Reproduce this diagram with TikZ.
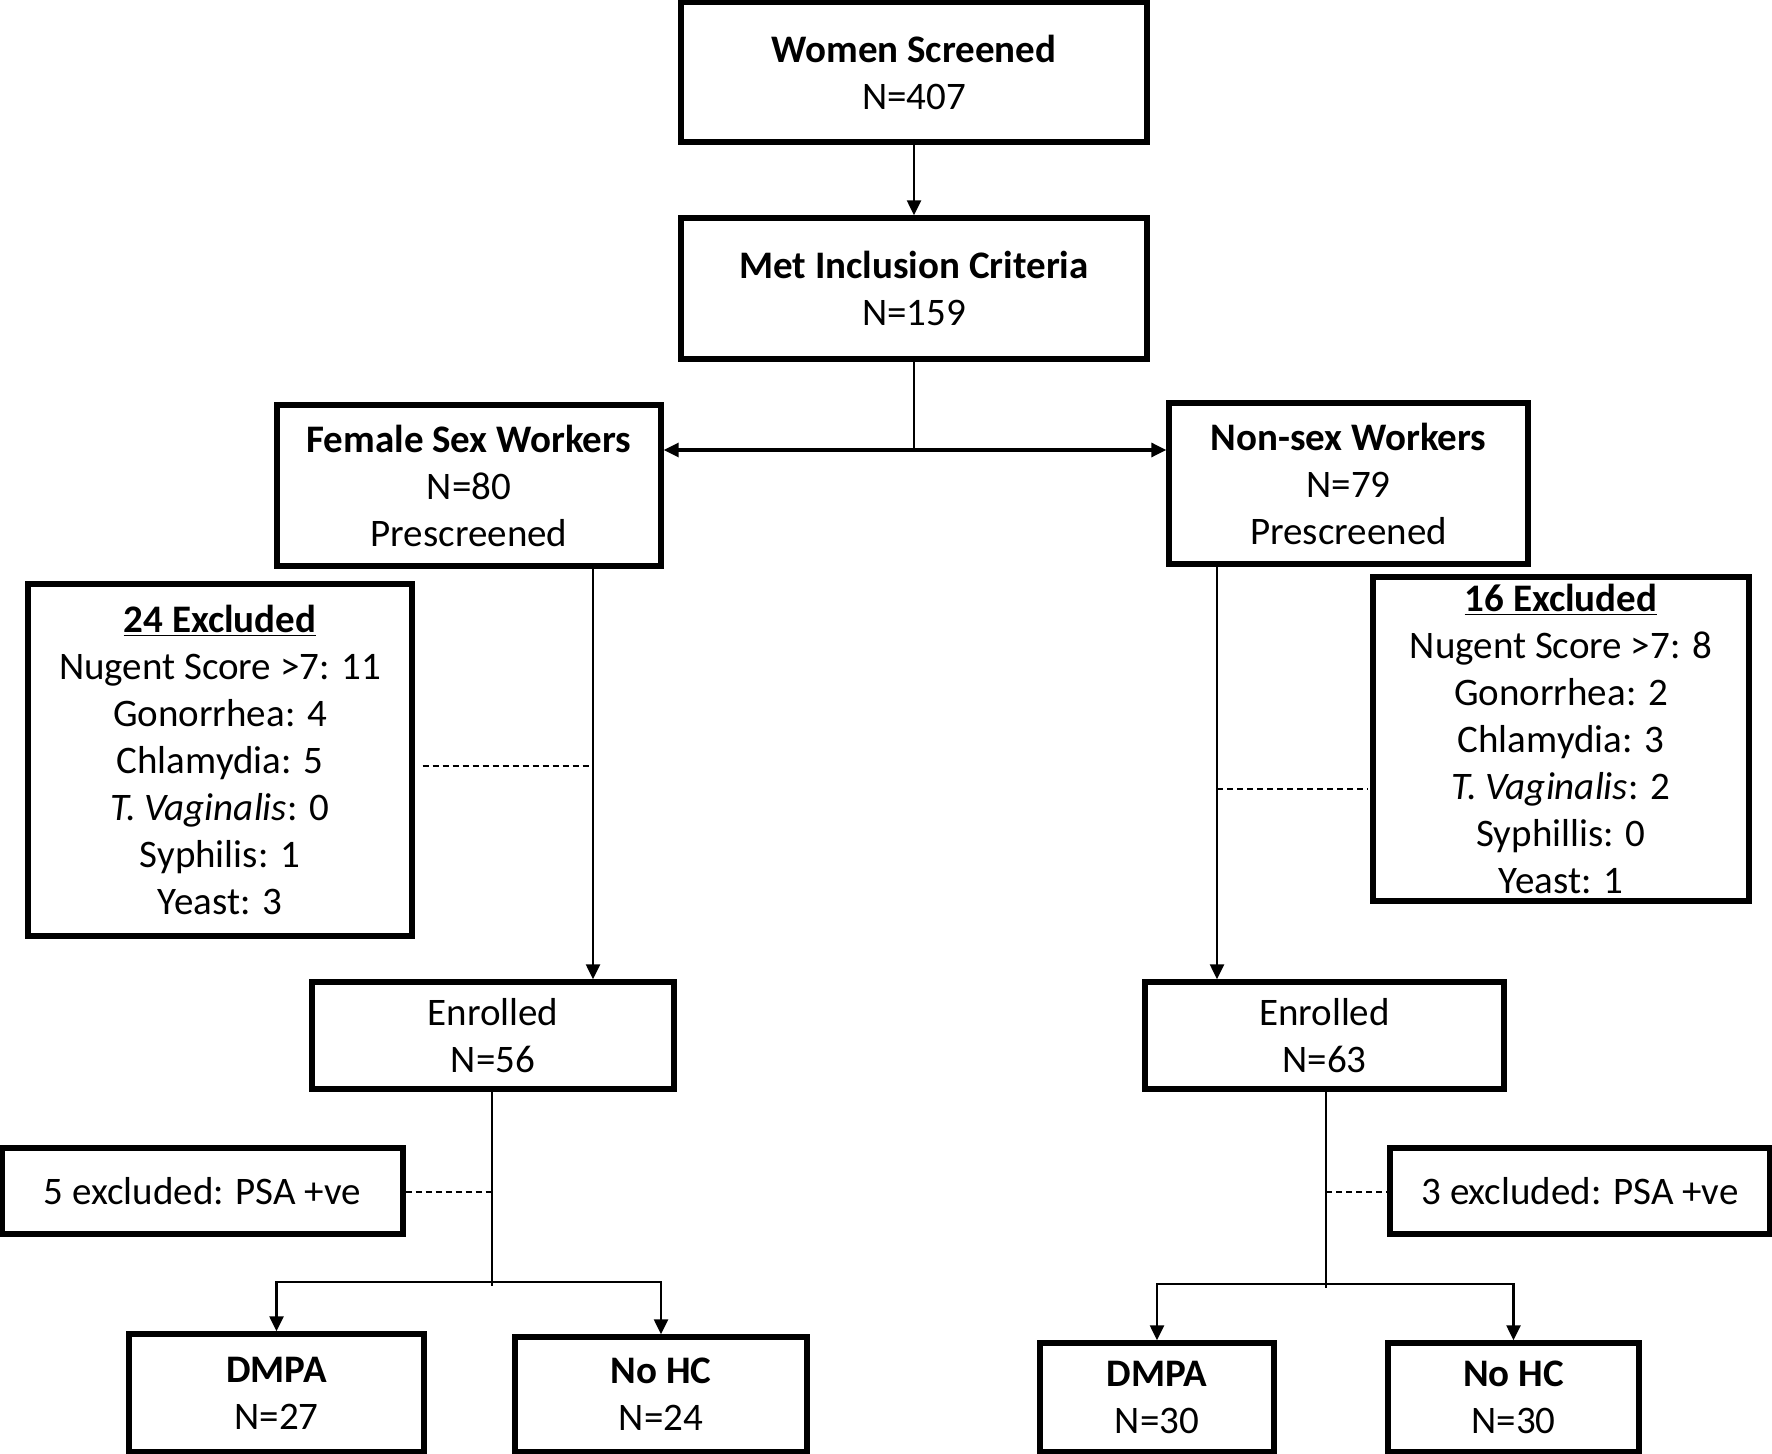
\documentclass[tikz,border=0pt]{standalone}
\usepackage{fontspec}
\setmainfont{Carlito}
\usetikzlibrary{arrows.meta}
\begin{document}
\begin{tikzpicture}[x=0.5pt,y=-0.5pt,
  box/.style={draw=black, line width=2.7pt, fill=white, align=center, inner sep=0pt,
    font=\fontsize{19.5}{23.5}\selectfont},
  conn/.style={line width=1.2pt},
  arr/.style={line width=1.2pt, -{Triangle[length=7.5pt,width=7pt]}},
  dsh/.style={line width=1.1pt, dash pattern=on 3pt off 2pt}]
\useasboundingbox (0,0) rectangle (1772,1454);
\fill[white] (0,0) rectangle (1772,1454);

\node[box, minimum width=233pt, minimum height=70pt] (ws) at (914,72) {\textbf{Women Screened}\\N=407};
\node[box, minimum width=233pt, minimum height=70.5pt] (mic) at (914,288.5) {\textbf{Met Inclusion Criteria}\\N=159};
\node[box, minimum width=192pt, minimum height=80.5pt] (fsw) at (469,485.5) {\textbf{Female Sex Workers}\\N=80\\Prescreened};
\node[box, minimum width=179.5pt, minimum height=80.5pt] (nsw) at (1348.5,483.5) {\textbf{Non-sex Workers}\\N=79\\Prescreened};
\node[box, minimum width=192pt, minimum height=176pt] (ex24) at (220,760) {\underline{\textbf{24 Excluded}}\\Nugent Score >7: 11\\Gonorrhea: 4\\Chlamydia: 5\\\textit{T. Vaginalis}: 0\\Syphilis: 1\\Yeast: 3};
\node[box, minimum width=188pt, minimum height=162pt] (ex16) at (1561,739) {\underline{\textbf{16 Excluded}}\\Nugent Score >7: 8\\Gonorrhea: 2\\Chlamydia: 3\\\textit{T. Vaginalis}: 2\\Syphillis: 0\\Yeast: 1};
\node[box, minimum width=181pt, minimum height=53.5pt] (enL) at (493,1035.5) {Enrolled\\N=56};
\node[box, minimum width=179.5pt, minimum height=53.5pt] (enR) at (1324.5,1035.5) {Enrolled\\N=63};
\node[box, minimum width=200.5pt, minimum height=43pt] (psaL) at (202.5,1191) {5 excluded: PSA +ve};
\node[box, minimum width=190pt, minimum height=43pt] (psaR) at (1580,1191) {3 excluded: PSA +ve};
\node[box, minimum width=147.5pt, minimum height=59pt] (dmL) at (276.5,1393) {\textbf{DMPA}\\N=27};
\node[box, minimum width=146pt, minimum height=57.5pt] (nhL) at (661,1394.5) {\textbf{No HC}\\N=24};
\node[box, minimum width=117pt, minimum height=54.5pt] (dmR) at (1157,1397.5) {\textbf{DMPA}\\N=30};
\node[box, minimum width=125.5pt, minimum height=54.5pt] (nhR) at (1513.5,1397.5) {\textbf{No HC}\\N=30};

% top
\draw[arr] (ws) -- (mic);
\coordinate (br) at (914,450);
\draw[conn] (mic) -- (br);
\draw[arr, line width=1.6pt] (br) -- (br -| fsw.east);
\draw[arr, line width=1.6pt] (br) -- (br -| nsw.west);

% prescreened -> enrolled
\coordinate (xL) at (593,766);
\coordinate (xR) at (1217,789);
\draw[arr] (xL |- fsw.south) -- (xL |- enL.north);
\draw[arr] (xR |- nsw.south) -- (xR |- enR.north);
\draw[dsh] ([xshift=4pt]xL -| ex24.east) -- (xL);
\draw[dsh] (xR) -- ([xshift=-1pt]xR -| ex16.west);

% enrolled -> arms
\coordinate (jL) at (492,1282);
\coordinate (jR) at (1326,1284);
\coordinate (pL) at (492,1192);
\coordinate (pR) at (1326,1192);
\draw[conn] (enL.south -| jL) -- ([yshift=-2pt]jL);
\draw[conn] (enR.south -| jR) -- ([yshift=-2pt]jR);
\draw[dsh] (pL -| psaL.east) -- (pL);
\draw[dsh] (pR) -- (pR -| psaR.west);
\draw[arr] (jL -| dmL) -- (jL -| nhL) -- (nhL.north);
\draw[arr] (jL -| nhL) -- (jL -| dmL) -- (dmL.north);
\draw[arr] (jR -| dmR) -- (jR -| nhR) -- (nhR.north);
\draw[arr] (jR -| nhR) -- (jR -| dmR) -- (dmR.north);
\end{tikzpicture}
\end{document}
